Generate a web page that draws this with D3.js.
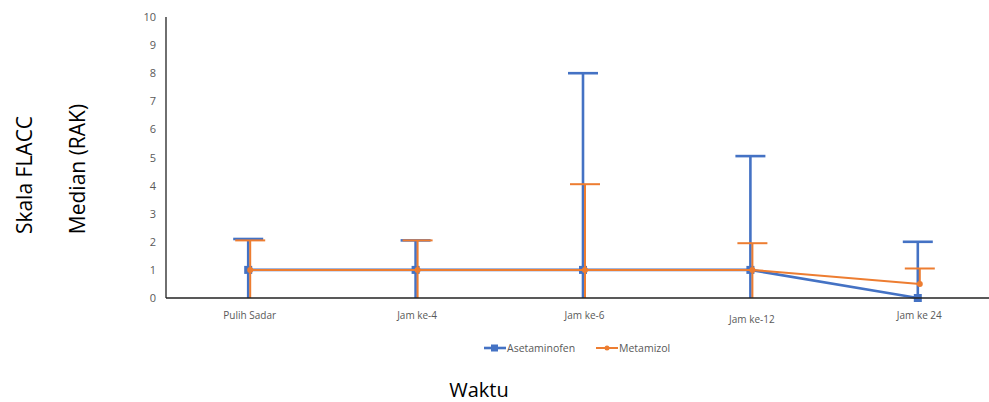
<!DOCTYPE html>
<html>
<head>
<meta charset="utf-8">
<script src="https://cdn.jsdelivr.net/npm/d3@7"></script>
<style>
  body { margin: 0; background: #fff; }
  svg { display: block; }
  text { font-family: "Open Sans", "Noto Sans", sans-serif; }
</style>
</head>
<body>
<svg id="chart" width="989" height="402"></svg>
<script>
// data
const categories = ['Pulih Sadar', 'Jam ke-4', 'Jam ke-6', 'Jam ke-12', 'Jam ke 24'];
const asetMedian = [1, 1, 1, 1, 0];
const asetLow = [0, 0, 0, 0, 0];
const asetHigh = [2.1, 2.05, 8, 5.05, 2];
const metaMedian = [1, 1, 1, 1, 0.5];
const metaLow = [0, 0, 0, 0, 0.5];
const metaHigh = [2.05, 2.05, 4.05, 1.95, 1.05];
const yTicks = [0, 1, 2, 3, 4, 5, 6, 7, 8, 9, 10];

const svg = d3.select('#chart');
const margin = { left: 166, top: 17, bottom: 104 };
const plotRight = 1003;
const innerH = 402 - margin.top - margin.bottom;

const x = d3.scaleBand().domain(categories).range([margin.left, plotRight]);
const y = d3.scaleLinear().domain([0, 10]).range([margin.top + innerH, margin.top]);

const series = [
  { name: 'Asetaminofen', color: '#4472C4', med: asetMedian, lo: asetLow, hi: asetHigh, width: 2.6, dx: -1.5, shape: 'square' },
  { name: 'Metamizol', color: '#ED7D31', med: metaMedian, lo: metaLow, hi: metaHigh, width: 2, dx: 0.5, shape: 'circle' }
];

// y axis labels (no tick marks)
const yAxis = d3.axisLeft(y).tickValues(yTicks).tickSize(0).tickPadding(10);
const gy = svg.append('g').attr('transform', `translate(${margin.left},0)`).call(yAxis);
gy.select('.domain').remove();
gy.selectAll('text').attr('fill', '#595959').style('font-size', '11px');

const xAxis = d3.axisBottom(x).tickSize(0).tickPadding(14);
const gx = svg.append('g').attr('transform', `translate(0,${y(0)})`).call(xAxis);
gx.select('.domain').remove();
gx.selectAll('text').attr('fill', '#595959').style('font-size', '10px')
  .attr('dy', d => d === 'Jam ke-12' ? '1.05em' : '0.71em');

const cx = (d, i) => x(categories[i]) + x.bandwidth() / 2;

series.forEach(s => {
  const g = svg.append('g');
  const line = d3.line().x((d, i) => cx(d, i) + s.dx).y(d => y(d));
  g.append('path').datum(s.med)
    .attr('d', line)
    .attr('fill', 'none')
    .attr('stroke', s.color)
    .attr('stroke-width', s.width);

  // error bars
  s.med.forEach((m, i) => {
    const px = cx(null, i) + s.dx;
    g.append('line')
      .attr('x1', px).attr('x2', px)
      .attr('y1', y(s.lo[i])).attr('y2', y(s.hi[i]))
      .attr('stroke', s.color).attr('stroke-width', s.width);
    g.append('line')
      .attr('x1', px - 15).attr('x2', px + 15)
      .attr('y1', y(s.hi[i])).attr('y2', y(s.hi[i]))
      .attr('stroke', s.color).attr('stroke-width', s.width);
  });

  // markers
  if (s.shape === 'square') {
    g.selectAll('rect').data(s.med).join('rect')
      .attr('x', (d, i) => cx(d, i) + s.dx - 4)
      .attr('y', d => y(d) - 4)
      .attr('width', 8).attr('height', 8)
      .attr('fill', s.color);
  } else {
    g.selectAll('circle').data(s.med).join('circle')
      .attr('cx', (d, i) => cx(d, i) + s.dx)
      .attr('cy', d => y(d))
      .attr('r', 3)
      .attr('fill', s.color);
  }
});

// axis lines
svg.append('line')
  .attr('x1', margin.left).attr('x2', margin.left)
  .attr('y1', y(10)).attr('y2', y(0))
  .attr('stroke', '#222').attr('stroke-width', 1.3);
svg.append('line')
  .attr('x1', margin.left).attr('x2', 989)
  .attr('y1', y(0)).attr('y2', y(0))
  .attr('stroke', '#222').attr('stroke-width', 1.3);

// legend
const legend = svg.append('g').attr('transform', 'translate(484,348)');
const legendX = [0, 112];
series.forEach((s, i) => {
  const lg = legend.append('g').attr('transform', `translate(${legendX[i]},0)`);
  lg.append('line').attr('x1', 0).attr('x2', 22).attr('y1', 0).attr('y2', 0)
    .attr('stroke', s.color).attr('stroke-width', s.width);
  if (s.shape === 'square') {
    lg.append('rect').attr('x', 7).attr('y', -3.5).attr('width', 7).attr('height', 7).attr('fill', s.color);
  } else {
    lg.append('circle').attr('cx', 11).attr('cy', 0).attr('r', 2.5).attr('fill', s.color);
  }
  lg.append('text').attr('x', 23).attr('y', 4)
    .attr('fill', '#595959').style('font-size', '10.5px').text(s.name);
});

// axis titles
svg.append('text')
  .attr('transform', 'translate(32,175) rotate(-90)')
  .attr('text-anchor', 'middle')
  .style('font-size', '21px').attr('fill', '#000')
  .text('Skala FLACC');
svg.append('text')
  .attr('transform', 'translate(85,169) rotate(-90)')
  .attr('text-anchor', 'middle')
  .style('font-size', '21px').attr('fill', '#000')
  .text('Median (RAK)');
svg.append('text')
  .attr('x', 479).attr('y', 397)
  .attr('text-anchor', 'middle')
  .style('font-size', '20px').attr('fill', '#000')
  .text('Waktu');
</script>
</body>
</html>
